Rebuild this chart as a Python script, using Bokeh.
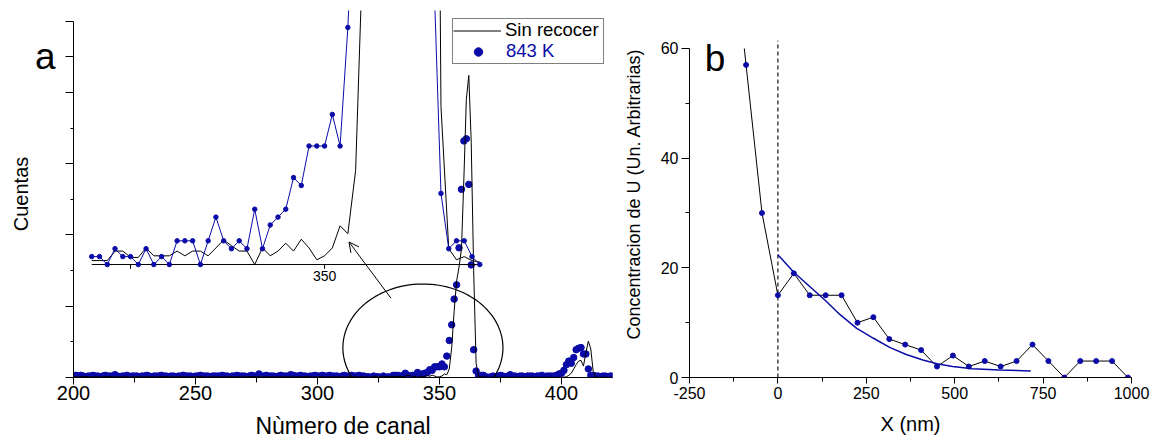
import numpy as np
from bokeh.plotting import figure
from bokeh.layouts import row
from bokeh.models import (Range1d, Legend, LegendItem, Label, Arrow, OpenHead,
                          PolyAnnotation, FixedTicker, ColumnDataSource)
from bokeh.embed import file_html
from bokeh.resources import INLINE
from bokeh.core.properties import value

FONT = "Liberation Sans"
BLUE = "#0b0ba8"

# ---------------- Panel a data ----------------
channels = list(range(200, 422))
blue_200_319 = [2,3,2,3,2,1,2,2,3,2,2,1,2,3,2,2,2,4,2,1,
                2,2,3,1,2,2,2,1,2,2,3,2,1,2,2,2,3,2,2,1,
                2,2,1,2,2,3,2,2,2,1,2,2,3,2,2,2,1,2,2,2,
                2,3,2,2,1,2,2,3,2,2,2,1,2,3,2,2,5,2,2,3,
                2,2,2,1,2,3,2,2,2,4,3,2,2,3,2,2,1,2,2,3,
                2,2,3,2,2,3,2,2,2,1,2,3,2,2,3,2,2,3,2,2]
blue_320_370 = [1,1,0,2,1,1,0,2,0,1,
                0,3,3,3,0,3,6,3,2,3,
                2,7,2,5,6,7,11,10,15,15,
                15,19,15,30,52,74,110,130,182,264,
                332,335,271,158,39,9,2,3,3,1,
                0]
blue_371_398 = [1,2,1,2,3,2,1,2,4,2,2,1,2,2,1,2,2,2,1,2,2,3,1,2,2,2,2,3]
blue_399_414 = [5,6,10,18,23,20,28,39,41,42,33,33,12,3,3,2]
blue_415_421 = [2,1,2,2,1,2,2]

black_200_319 = [1,1,0.5,1,1,1.5,1,0.5,1,1,1,0.5,1,1,1.5,1,1,1,0.5,1,
                 1,1,1,0.5,1,1,1,1,0.5,1,1,1,1,1,0.5,1,1,1.5,1,1,
                 1,0.5,1,1,1,1,1,0.5,1,1,1,1,1.5,1,1,0.5,1,1,1,1,
                 1,1,0.5,1,1,1,1,1,1,0.5,1,1,1,1.5,1,1,1,0.5,1,1,
                 1,1,1,0.5,1,1,1,1,1,1,0.5,1,1,1,1,1.5,1,1,0.5,1,
                 1,1,1,1,0.5,1,1,1,1,1,1,0.5,1,1,1,1,1,0.5,1,1]
black_320_370 = [0.5,0.5,0.5,1.7,1.7,0.9,0.9,2.1,1.1,1.1,
                 1.1,1.7,1.1,1.7,1.7,1.1,2.1,3.1,2.4,1.7,
                 1.7,0,2.1,1.1,1.7,2.7,1.7,3.2,2.1,0.6,
                 1.1,2.1,4.9,3.9,11.9,42,93,135,155,180,
                 280,390,424,330,150,20,2,0.6,1,0.5,
                 0.3]
black_371_398 = [0.3,0.5,0.3,0.4,0.3,0.5,0.3,0.3,0.4,0.3,0.5,0.3,0.3,0.4,
                 0.3,0.3,0.5,0.3,0.4,0.3,0.3,0.5,0.3,0.3,0.4,0.3,0.3,0.3]
black_399_414 = [0,0.3,0.5,1,3,6,12,18,23,24,16,35,51,40,8,1]
black_415_421 = [0.3,0.3,0.3,0.3,0.3,0.3,0.3]

blue_counts = blue_200_319 + blue_320_370 + blue_371_398 + blue_399_414 + blue_415_421
black_counts = black_200_319 + black_320_370 + black_371_398 + black_399_414 + black_415_421

inset_lo, inset_hi = 320, 370
inset_ticks = [325, 350]
inset_labels = ["", "350"]

xa_ticks = [200, 250, 300, 350, 400]
xa_minor = [225, 275, 325, 375, 425]
ya_ticks = [0, 100, 200, 300, 400, 450, 500]
ya_minor = [50, 150, 250, 350]
ya_labels = {0: "", 100: "", 200: "", 300: "", 400: "", 450: "a", 500: ""}

# ---------------- Panel b data ----------------
pos_nm = [-90, -45, 0, 45, 90, 135, 180, 225, 270, 315, 360, 405, 450, 495,
          540, 585, 630, 675, 720, 765, 810, 855, 900, 945, 990]
conc_u = [57, 30, 15, 19, 15, 15, 15, 10, 11, 7, 6, 5, 2, 4,
          2, 3, 2, 3, 6, 3, 0, 3, 3, 3, 0]
trace_top_nm, trace_top_u = -95, 60          # where the black trace leaves the top of the axes
fit_nm = [0, 45, 90, 135, 175, 222, 269, 316, 363, 410, 450, 494, 550, 626, 715]
fit_u = [22.4, 19.2, 16.6, 14.0, 11.5, 9.0, 7.2, 5.5, 4.2, 3.2, 2.5, 2.0, 1.6, 1.35, 1.2]
interface_nm, interface_top = 0, 61.4
xb_ticks = [-250, 0, 250, 500, 750, 1000]
xb_minor = [-125, 125, 375, 625, 875]
yb_ticks = [0, 20, 40, 60]
yb_minor = [10, 30, 50]


def style_axes(p, tick_size):
    for ax in (p.xaxis[0], p.yaxis[0]):
        ax.axis_line_color = "black"
        ax.major_tick_line_color = "black"
        ax.minor_tick_line_color = "black"
        ax.major_tick_in = 0
        ax.minor_tick_in = 0
        ax.major_label_text_font = FONT
        ax.major_label_text_font_size = tick_size
        ax.major_label_text_color = "black"
        ax.axis_label_text_font = FONT
        ax.axis_label_text_font_style = "normal"
        ax.axis_label_text_color = "black"
    p.xgrid.visible = False
    p.ygrid.visible = False
    p.outline_line_color = None


# ================= Panel a =================
pa = figure(width=620, height=448, x_range=Range1d(200, 420.9), y_range=Range1d(0, 515.0),
            output_backend="svg", toolbar_location=None,
            min_border_left=73, min_border_right=8, min_border_top=10, min_border_bottom=71)
style_axes(pa, "20px")
pa.xaxis.ticker = FixedTicker(ticks=xa_ticks, minor_ticks=xa_minor)
pa.yaxis.ticker = FixedTicker(ticks=ya_ticks, minor_ticks=ya_minor)
pa.yaxis.major_label_overrides = ya_labels
pa.yaxis.major_label_text_font_size = "37px"
pa.yaxis.bounds = (0, 500)
pa.xaxis.axis_label = "Nùmero de canal"
pa.yaxis.axis_label = "Cuentas"
pa.xaxis.axis_label_text_font_size = "23px"
pa.yaxis.axis_label_text_font_size = "20px"
pa.xaxis.major_tick_out = 7
pa.xaxis.minor_tick_out = 5
pa.yaxis.major_tick_out = 8
pa.yaxis.minor_tick_out = 3
pa.xaxis.major_label_standoff = 1
pa.xaxis.axis_label_standoff = 10
pa.yaxis.major_label_standoff = 10
pa.yaxis.axis_label_standoff = 0

src = ColumnDataSource(dict(ch=channels, blue=blue_counts, black=black_counts))
r_blue = pa.scatter("ch", "blue", source=src, size=6.5, color=BLUE)
r_black = pa.line("ch", "black", source=src, color="black", line_width=1)

# inset (zoomed view of channels 320-370)
pa.extra_x_ranges = {"ix": Range1d(317.65, 387.1)}
pa.extra_y_ranges = {"iy": Range1d(-14.30, 32.15)}
sel = [i for i, c in enumerate(channels) if inset_lo <= c <= inset_hi]
isrc = ColumnDataSource(dict(ch=[channels[i] for i in sel],
                             blue=[blue_counts[i] for i in sel],
                             black=[black_counts[i] for i in sel]))
pa.segment(x0=[inset_lo], y0=[0], x1=[inset_hi], y1=[0], x_range_name="ix", y_range_name="iy",
           line_color="black", line_width=1)
pa.segment(x0=inset_ticks, y0=[0] * len(inset_ticks), x1=inset_ticks, y1=[-0.55] * len(inset_ticks),
           x_range_name="ix", y_range_name="iy", line_color="black", line_width=1)
pa.text(x=inset_ticks, y=[0] * len(inset_ticks), text=inset_labels, x_range_name="ix", y_range_name="iy",
        text_font=value(FONT), text_font_size="14px", text_align="center", text_baseline="top",
        y_offset=6, text_color="black")
pa.line("ch", "black", source=isrc, x_range_name="ix", y_range_name="iy", color="black", line_width=1)
pa.line("ch", "blue", source=isrc, x_range_name="ix", y_range_name="iy", color=BLUE, line_width=1)
pa.scatter("ch", "blue", source=isrc, x_range_name="ix", y_range_name="iy", size=4.5, color=BLUE)

# ellipse marking the zoomed region and arrow to the inset
ell_cx, ell_cy, ell_rx, ell_ry = 343.2, 41.7, 32.8, 89.5
t = np.linspace(0, 2 * np.pi, 120)
pa.add_layout(PolyAnnotation(xs=list(ell_cx + ell_rx * np.cos(t)), ys=list(ell_cy + ell_ry * np.sin(t)),
                             fill_alpha=0, line_color="black", line_alpha=1, line_width=1.2))
pa.add_layout(Arrow(end=OpenHead(size=10, line_width=1, line_color="black"),
                    x_start=330.1, y_start=111.3, x_end=312.9, y_end=190.2,
                    line_color="black", line_width=1))

# legend: two aligned legends so that "843 K" can be blue
r_dummy = pa.scatter(x=[], y=[], size=1, alpha=0)
leg_common = dict(location="top_right", margin=8, padding=0, spacing=1, glyph_width=48,
                  glyph_height=21, label_height=21, label_width=98, label_standoff=4,
                  label_text_font=FONT, label_text_font_size="18.5px")
legA = Legend(items=[LegendItem(label="Sin recocer", renderers=[r_black]),
                     LegendItem(label=" ", renderers=[r_dummy])],
              border_line_color="black", border_line_width=1, label_text_color="black", **leg_common)
legB = Legend(items=[LegendItem(label=" ", renderers=[r_dummy]),
                     LegendItem(label="843 K", renderers=[r_blue])],
              border_line_color=None, background_fill_alpha=0, label_text_color=BLUE, **leg_common)
pa.add_layout(legA)
pa.add_layout(legB)

# ================= Panel b =================
pb = figure(width=537, height=448, x_range=Range1d(-250, 1000), y_range=Range1d(0, 66.93),
            output_backend="svg", toolbar_location=None,
            min_border_left=69, min_border_right=26, min_border_top=10, min_border_bottom=71)
style_axes(pb, "16px")
pb.xaxis.ticker = FixedTicker(ticks=xb_ticks, minor_ticks=xb_minor)
pb.yaxis.ticker = FixedTicker(ticks=yb_ticks, minor_ticks=yb_minor)
pb.xaxis.major_label_overrides = {t: str(t) for t in xb_ticks}
pb.yaxis.bounds = (0, 60)
pb.xaxis.axis_label = "X (nm)"
pb.yaxis.axis_label = "Concentracion de U (Un. Arbitrarias)"
pb.xaxis.axis_label_text_font_size = "20px"
pb.yaxis.axis_label_text_font_size = "18px"
pb.xaxis.major_tick_out = 6
pb.xaxis.minor_tick_out = 4
pb.yaxis.major_tick_out = 8
pb.yaxis.minor_tick_out = 4
pb.xaxis.major_label_standoff = 3
pb.yaxis.major_label_standoff = 3
pb.xaxis.axis_label_standoff = 11
pb.yaxis.axis_label_standoff = 14

pb.segment(x0=[interface_nm], y0=[0], x1=[interface_nm], y1=[interface_top],
           line_color="#222222", line_width=1.3, line_dash="4 3")
pb.line([trace_top_nm] + pos_nm, [trace_top_u] + conc_u, color="black", line_width=1)
pb.scatter(pos_nm, conc_u, size=5, color=BLUE)
pb.line(fit_nm, fit_u, color=BLUE, line_width=1.5)
pb.add_layout(Label(x=-177.6, y=58.2, text="b", text_font=FONT, text_font_size="37px",
                    text_align="center", text_baseline="middle", text_color="black"))

layout = row(pa, pb)
open("out.html", "w").write(file_html(layout, INLINE))
